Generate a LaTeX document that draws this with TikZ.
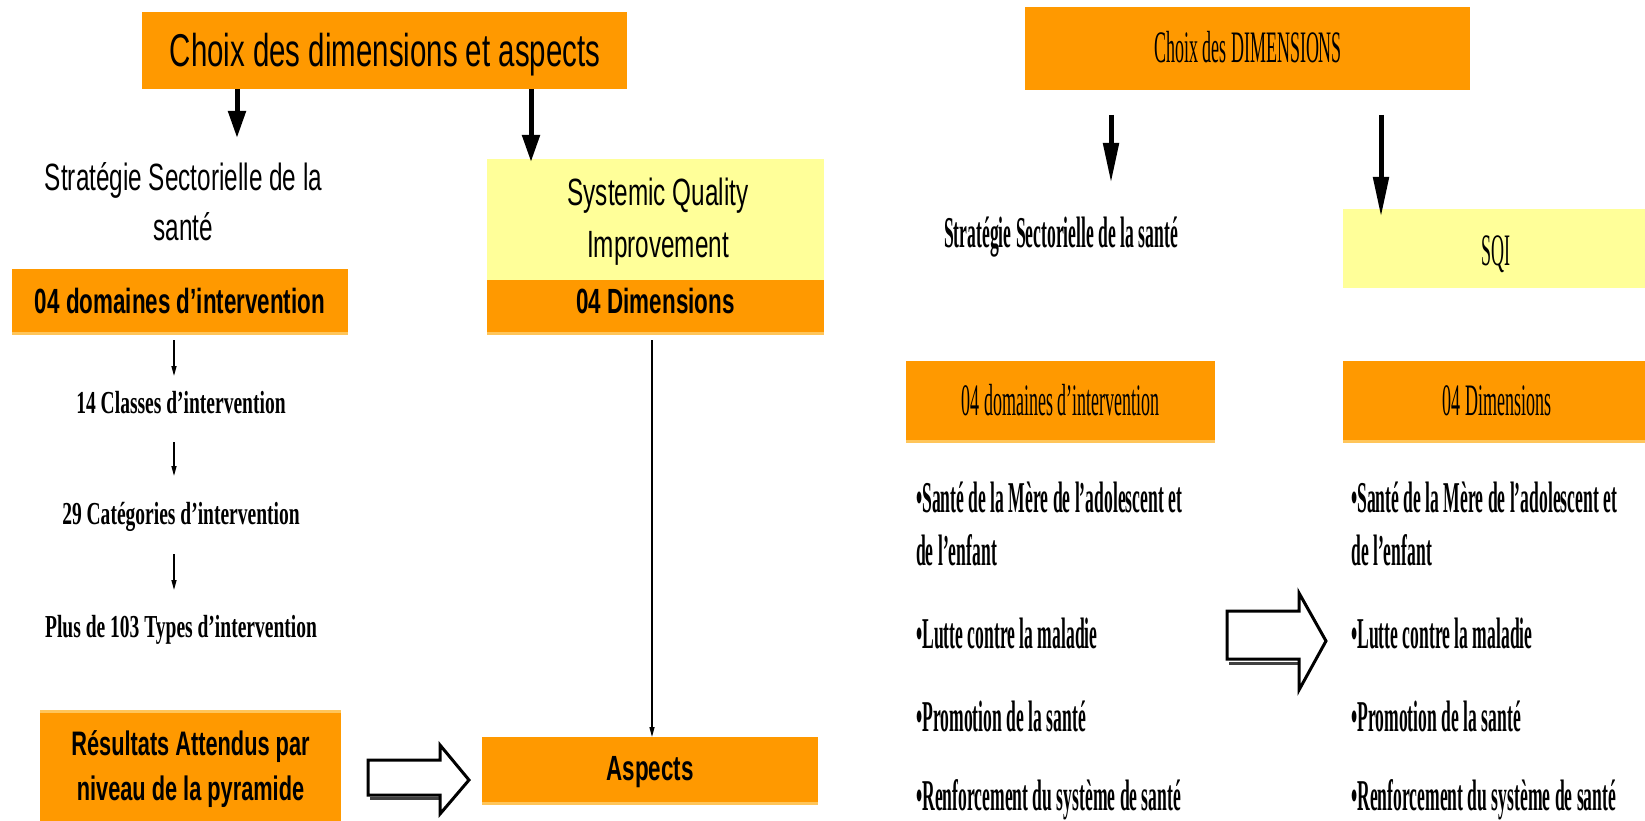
\documentclass[tikz,border=0pt]{standalone}
\usepackage{fontspec}
\setmainfont{Liberation Serif}
\newfontfamily\sansN[FakeStretch=0.64]{Liberation Sans}
\newfontfamily\serifL[FakeStretch=0.61]{Liberation Serif}
\newfontfamily\serifR[FakeStretch=0.40]{Liberation Serif}
\usetikzlibrary{arrows.meta}
\definecolor{orng}{HTML}{FF9900}
\definecolor{ylw}{HTML}{FFFF99}
\definecolor{lorng}{HTML}{FFC55A}
\newcommand\fsz[1]{\fontsize{#1}{#1}\selectfont}
\begin{document}
\begin{tikzpicture}[x=1pt,y=-1pt,
  obox/.style={fill=orng, draw=none, inner sep=0pt, outer sep=0pt},
  ybox/.style={fill=ylw, draw=none, inner sep=0pt, outer sep=0pt},
  strip/.style={draw=lorng, line width=3pt},
  txt/.style={anchor=base, inner sep=0pt, text=black},
  btxt/.style={anchor=base west, inner sep=0pt, text=black},
  bigarrowL/.style={line width=5pt, -{Triangle[length=27pt,width=17pt]}},
  bigarrowR/.style={line width=5pt, -{Triangle[length=40pt,width=15pt]}},
  thinarrow/.style={line width=1.4pt, -{Triangle[length=10pt,width=5pt]}},
  blockarrow/.style={draw=black, line width=3pt, fill=white, line join=miter},
  blockshadow/.style={draw=black!75, line width=3pt},
  fsansT/.style={font=\sansN\fsz{46}},
  fsansM/.style={font=\sansN\fsz{38}},
  fsansB/.style={font=\sansN\bfseries\fsz{35}},
  fserL/.style={font=\serifL\bfseries\fsz{32}},
  fserR/.style={font=\serifR\fsz{45}},
  fserRB/.style={font=\serifR\bfseries\fsz{44}}
]
\useasboundingbox[fill=white] (0,0) rectangle (1645,821);

% ---------------- LEFT PART ----------------
\node[obox, minimum width=485pt, minimum height=77pt] (ltitle) at (384.5,50.5) {};
\node[txt, fsansT] (ltitle-t) at (385,67) {Choix des dimensions et aspects};

\node[txt, fsansM] (lstrat1) at (183.5,190) {Stratégie Sectorielle de la};
\node[txt, fsansM] (lstrat2) at (183.5,240) {santé};

\node[obox, minimum width=336pt, minimum height=63pt] (ldom) at (180,300.5) {};
\draw[strip] ([yshift=-1.5pt]ldom.south west) -- ([yshift=-1.5pt]ldom.south east);
\node[txt, fsansB] (ldom-t) at (180,313) {04 domaines d’intervention};

\node[ybox, minimum width=337pt, minimum height=121pt] (lsqi) at (655.5,219.5) {};
\node[txt, fsansM] (lsqi1) at (658,205) {Systemic Quality};
\node[txt, fsansM] (lsqi2) at (658,257) {Improvement};

\node[obox, minimum width=337pt, minimum height=52pt] (ldim) at (655.5,306) {};
\draw[strip] ([yshift=-1.5pt]ldim.south west) -- ([yshift=-1.5pt]ldim.south east);
\node[txt, fsansB] (ldim-t) at (655.5,313) {04 Dimensions};

\node[txt, fserL] (lcls) at (181,413) {14 Classes d’intervention};
\node[txt, fserL] (lcat) at (181,524) {29 Catégories d’intervention};
\node[txt, fserL] (ltyp) at (181,637) {Plus de 103 Types d’intervention};

\node[obox, minimum width=301pt, minimum height=109pt] (lres) at (190.5,766.5) {};
\draw[strip] ([yshift=1pt]lres.north west) -- ([yshift=1pt]lres.north east);
\node[txt, font=\sansN\bfseries\fsz{34}] (lres1) at (190.5,755) {Résultats Attendus par};
\node[txt, font=\sansN\bfseries\fsz{34}] (lres2) at (190.5,800) {niveau de la pyramide};

\node[obox, minimum width=336pt, minimum height=65pt] (lasp) at (650,769.5) {};
\draw[strip] ([yshift=-1.5pt]lasp.south west) -- ([yshift=-1.5pt]lasp.south east);
\node[txt, fsansB] (lasp-t) at (650,780) {Aspects};

% arrows left
\coordinate (a1e) at (237,138);
\coordinate (a2e) at (531,162);
\draw[bigarrowL] (ltitle.south -| a1e) -- (a1e);
\draw[bigarrowL] (ltitle.south -| a2e) -- (a2e);

\coordinate (s1a) at (174,340); \coordinate (s1b) at (174,376);
\coordinate (s2a) at (174,442); \coordinate (s2b) at (174,476);
\coordinate (s3a) at (174,554); \coordinate (s3b) at (174,590);
\draw[thinarrow] (s1a) -- (s1b);
\draw[thinarrow] (s2a) -- (s2b);
\draw[thinarrow] (s3a) -- (s3b);

\coordinate (la) at (652,340);
\draw[thinarrow] (la) -- (lasp.north -| la);

% block arrow left
\draw[blockshadow] (370,764) -- (440,764);
\draw[blockshadow] (370,798) -- (440,798);
\draw[blockarrow] (368,760) -- (440,760) -- (440,745) -- (469,780) -- (440,814) -- (440,795) -- (368,795) -- cycle;

% ---------------- RIGHT PART ----------------
\node[obox, minimum width=445pt, minimum height=83pt] (rtitle) at (1247.5,48.5) {};
\node[txt, fserR] (rtitle-t) at (1248,63) {Choix des DIMENSIONS};

\node[txt, fserRB] (rstrat) at (1061,247) {Stratégie Sectorielle de la santé};

\node[ybox, minimum width=302pt, minimum height=79pt] (rsqi) at (1494,248.5) {};
\node[txt, fserR] (rsqi-t) at (1496,265) {SQI};

\node[obox, minimum width=309pt, minimum height=79pt] (rdom) at (1060.5,400.5) {};
\draw[strip] ([yshift=-1.5pt]rdom.south west) -- ([yshift=-1.5pt]rdom.south east);
\node[txt, fserR] (rdom-t) at (1060.5,415) {04 domaines d’intervention};

\node[obox, minimum width=302pt, minimum height=79pt] (rdim) at (1494,400.5) {};
\draw[strip] ([yshift=-1.5pt]rdim.south west) -- ([yshift=-1.5pt]rdim.south east);
\node[txt, fserR] (rdim-t) at (1497,415) {04 Dimensions};

\coordinate (r1s) at (1111,115); \coordinate (r1e) at (1111,183);
\coordinate (r2s) at (1381,115); \coordinate (r2e) at (1381,217);
\draw[bigarrowR] (r1s) -- (r1e);
\draw[bigarrowR] (r2s) -- (r2e);

% bullet lists
\node[btxt, fserRB] (lb1) at (916,512) {•Santé de la Mère de l’adolescent et};
\node[btxt, fserRB] (lb1b) at (916,565) {de l’enfant};
\node[btxt, fserRB] (lb2) at (916,648) {•Lutte contre la maladie};
\node[btxt, fserRB] (lb3) at (916,731) {•Promotion de la santé};
\node[btxt, fserRB] (lb4) at (916,810) {•Renforcement du système de santé};

\node[btxt, fserRB] (rb1) at (1351,512) {•Santé de la Mère de l’adolescent et};
\node[btxt, fserRB] (rb1b) at (1351,565) {de l’enfant};
\node[btxt, fserRB] (rb2) at (1351,648) {•Lutte contre la maladie};
\node[btxt, fserRB] (rb3) at (1351,731) {•Promotion de la santé};
\node[btxt, fserRB] (rb4) at (1351,810) {•Renforcement du système de santé};

% block arrow right
\draw[blockshadow] (1229,615) -- (1299,615);
\draw[blockshadow] (1229,663) -- (1299,663);
\draw[blockarrow] (1227,611) -- (1299,611) -- (1299,593) -- (1326,641) -- (1299,690) -- (1299,659) -- (1227,659) -- cycle;
\end{tikzpicture}
\end{document}
